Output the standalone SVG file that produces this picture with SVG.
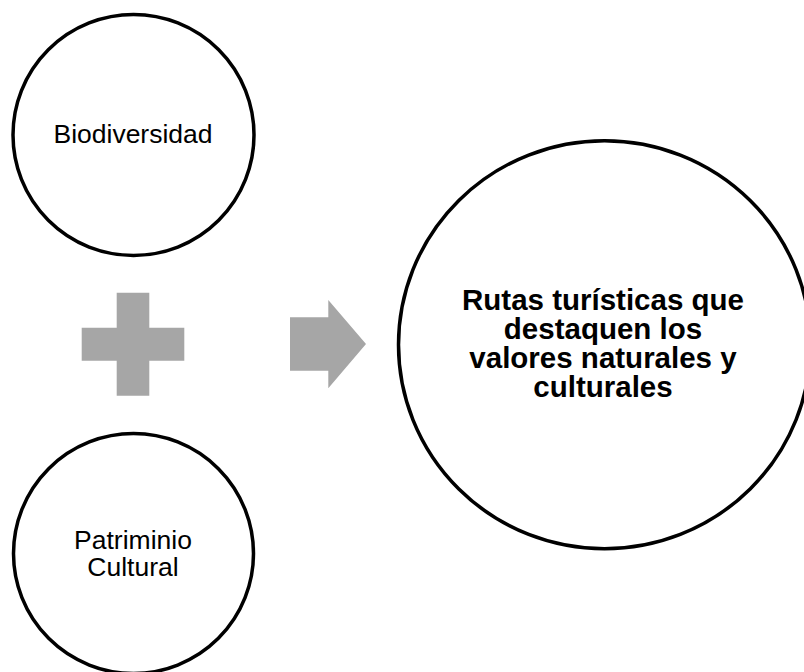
<svg xmlns="http://www.w3.org/2000/svg" width="804" height="672" viewBox="0 0 804 672">
  <style>
    .node { fill: #FFFFFF; stroke: #000000; stroke-width: 3.5; }
    .lbl { font-family: "Liberation Sans", Arial, sans-serif; font-size: 26.5px; fill: #000000; text-anchor: middle; }
    .lblb { font-family: "Liberation Sans", Arial, sans-serif; font-size: 29.5px; font-weight: bold; fill: #000000; text-anchor: middle; }
    .sym { fill: #A6A6A6; stroke: none; }
  </style>
  <rect x="0" y="0" width="804" height="672" fill="#FFFFFF"/>
  <g id="biodiversidad">
    <circle class="node" cx="133.5" cy="135" r="120.5"/>
    <text class="lbl" x="133" y="143">Biodiversidad</text>
  </g>
  <g id="patrimonio">
    <circle class="node" cx="133.5" cy="553.5" r="120"/>
    <text class="lbl" x="133" y="548.5">Patriminio</text>
    <text class="lbl" x="133" y="575.5">Cultural</text>
  </g>
  <g id="rutas">
    <ellipse class="node" cx="604.5" cy="344.7" rx="206" ry="204"/>
    <text class="lblb" x="603" y="310">Rutas turísticas que</text>
    <text class="lblb" x="603" y="339">destaquen los</text>
    <text class="lblb" x="603" y="368">valores naturales y</text>
    <text class="lblb" x="603" y="397">culturales</text>
  </g>
  <g id="connectors">
    <polygon id="plus" class="sym" points="116.7,292.7 149.3,292.7 149.3,327.7 184.3,327.7 184.3,360.7 149.3,360.7 149.3,395.7 116.7,395.7 116.7,360.7 81.7,360.7 81.7,327.7 116.7,327.7"/>
    <polygon id="arrow" class="sym" points="290,317.3 328.3,317.3 328.3,300 366,344 328.3,388.3 328.3,370.7 290,370.7"/>
  </g>
</svg>
